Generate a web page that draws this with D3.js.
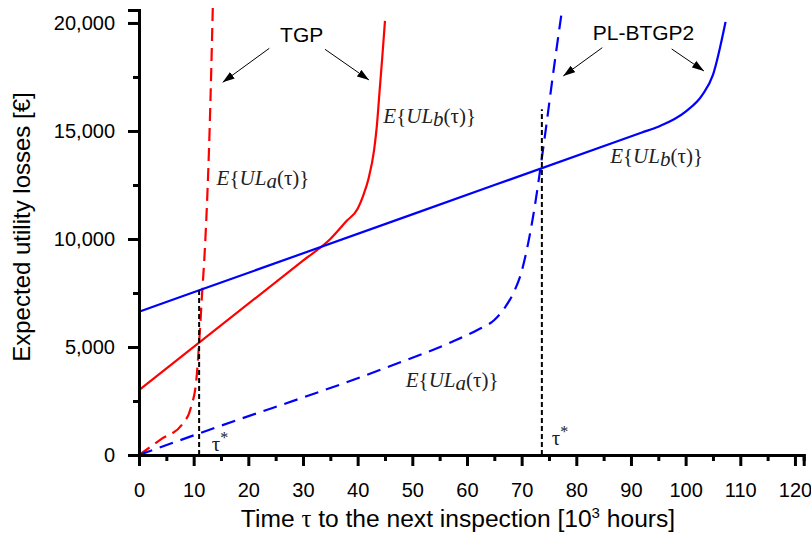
<!DOCTYPE html>
<html>
<head>
<meta charset="utf-8">
<script src="https://cdn.jsdelivr.net/npm/d3@7"></script>
<style>
    html, body { margin: 0; padding: 0; background: #fff; }
    svg { display: block; }
    .tick text { font-family: "Liberation Sans", Arial, sans-serif; font-size: 20px; fill: #000; }
    .math { font-family: "Liberation Serif", "Times New Roman", serif; font-size: 21px; fill: #222; }
    .note { font-family: "Liberation Sans", Arial, sans-serif; font-size: 21px; fill: #000; }
    .title { font-family: "Liberation Sans", Arial, sans-serif; font-size: 24px; fill: #000; }
</style>
</head>
<body>
<div id="chart"></div>
<script>
// ------------------------------------------------------------
// Data (x in 10^3 h, y in EUR)
// ------------------------------------------------------------
var xMajorTicks = [0, 10, 20, 30, 40, 50, 60, 70, 80, 90, 100, 110, 120];
var xMinorTicks = [5, 15, 25, 35, 45, 55, 65, 75, 85, 95, 105, 115];
var yMajorTicks = [0, 5000, 10000, 15000, 20000];
var yMinorTicks = [2500, 7500, 12500, 17500];

// TGP model
var tgpUlaX = [0, 4, 8, 9.5, 10.5, 11.1, 11.5, 12, 12.9, 13.5];
var tgpUlaY = [0, 720, 1450, 2200, 3500, 5600, 7300, 9300, 14900, 20700];
var tgpUlbX = [0, 30, 35, 38, 40, 41, 42, 43, 43.5, 44, 44.5, 45];
var tgpUlbY = [3000, 9000, 10000, 10840, 11400, 12000, 12800, 14100, 15200, 16800, 18400, 20100];

// PL-BTGP2 model
var plUlaX = [0, 11, 46, 58, 62, 65, 67, 68.5, 70, 72, 74, 76, 77.3];
var plUlaY = [0, 1000, 4120, 5320, 5800, 6250, 6850, 7500, 8500, 10900, 14300, 18100, 20450];
var plUlbX = [0, 50, 92, 95, 100, 103, 105, 107.3];
var plUlbY = [6630, 11140, 14930, 15200, 15900, 16650, 17600, 20050];

// optimal inspection times tau* and the height of their markers
var tauStar = [11, 73.7];
var tauStarTop = [7620, 16000];

(function () {
    'use strict';

    var W = 811, H = 545;

    var x = d3.scaleLinear().domain([0, 121.6]).range([139, 803.7]);
    var y = d3.scaleLinear().domain([0, 20600]).range([455, 10]);

    var svg = d3.select('#chart').append('svg')
        .attr('width', W).attr('height', H);

    function zip(xs, ys) {
        return xs.map(function (v, i) { return [v, ys[i]]; });
    }

    var line = d3.line()
        .x(function (d) { return x(d[0]); })
        .y(function (d) { return y(d[1]); })
        .curve(d3.curveMonotoneX);

    // --- curves ---
    var series = [
        { pts: zip(tgpUlaX, tgpUlaY), color: '#ff0000', dash: '13,7' },
        { pts: zip(tgpUlbX, tgpUlbY), color: '#ff0000', dash: null },
        { pts: zip(plUlaX, plUlaY), color: '#0000ff', dash: '14,8' },
        { pts: zip(plUlbX, plUlbY), color: '#0000ff', dash: null }
    ];
    series.forEach(function (s) {
        svg.append('path')
            .attr('d', line(s.pts))
            .attr('fill', 'none')
            .attr('stroke', s.color)
            .attr('stroke-width', 2.2)
            .attr('stroke-dasharray', s.dash);
    });

    // --- tau* markers ---
    tauStar.forEach(function (t, i) {
        svg.append('line')
            .attr('x1', x(t)).attr('x2', x(t))
            .attr('y1', y(0)).attr('y2', y(tauStarTop[i]))
            .attr('stroke', '#000')
            .attr('stroke-width', 2)
            .attr('stroke-dasharray', '5,3');
    });
    var tauLabels = [[13.3, 185], [75.5, 460]];
    tauLabels.forEach(function (p) {
        var t = svg.append('text').attr('class', 'math')
            .attr('x', x(p[0])).attr('y', y(p[1]));
        t.append('tspan').text('τ');
        t.append('tspan').attr('dy', -8).attr('font-size', 16).text('*');
    });

    // --- axes ---
    function styleAxis(g) {
        g.select('.domain').attr('stroke-width', 3).attr('stroke', '#000');
        g.selectAll('.tick line').attr('stroke-width', 3).attr('stroke', '#000');
    }

    svg.append('g').attr('transform', 'translate(0,' + y(0) + ')')
        .call(d3.axisBottom(x).tickValues(xMinorTicks).tickSize(6).tickFormat(''))
        .call(styleAxis);
    svg.append('g').attr('transform', 'translate(0,' + y(0) + ')')
        .call(d3.axisBottom(x).tickValues(xMajorTicks).tickSize(11).tickPadding(17)
            .tickFormat(d3.format('d')))
        .call(styleAxis);

    svg.append('g').attr('transform', 'translate(' + x(0) + ',0)')
        .call(d3.axisLeft(y).tickValues(yMinorTicks).tickSize(6).tickFormat(''))
        .call(styleAxis);
    svg.append('g').attr('transform', 'translate(' + x(0) + ',0)')
        .call(d3.axisLeft(y).tickValues(yMajorTicks).tickSize(11).tickPadding(13)
            .tickFormat(d3.format(',')))
        .call(styleAxis);

    // --- axis titles ---
    var xt = svg.append('text').attr('class', 'title')
        .attr('x', 458).attr('y', 527).attr('text-anchor', 'middle')
        .style('font-size', '24.6px');
    xt.append('tspan').text('Time ');
    xt.append('tspan').attr('font-family', 'Liberation Serif, serif').text('τ');
    xt.append('tspan').text(' to the next inspection [10');
    xt.append('tspan').attr('dy', -9).attr('font-size', 15).text('3');
    xt.append('tspan').attr('dy', 9).text(' hours]');

    svg.append('text').attr('class', 'title')
        .attr('transform', 'translate(30,227) rotate(-90)')
        .attr('text-anchor', 'middle')
        .text('Expected utility losses [€]');

    // --- curve labels E{UL(τ)} ---
    var mathLabels = [
        { x: 14.2, y: 12500, sub: 'a' },
        { x: 44.7, y: 15370, sub: 'b' },
        { x: 86.2, y: 13520, sub: 'b' },
        { x: 48.8, y: 3160, sub: 'a' }
    ];
    mathLabels.forEach(function (m) {
        var t = svg.append('text').attr('class', 'math')
            .attr('x', x(m.x)).attr('y', y(m.y));
        t.append('tspan').attr('font-style', 'italic').text('E');
        t.append('tspan').text('{');
        t.append('tspan').attr('font-style', 'italic').text('UL');
        t.append('tspan').attr('font-style', 'italic').attr('dy', 3).text(m.sub);
        t.append('tspan').attr('dy', -3).text('(τ)}');
    });

    // --- model annotations with arrows ---
    var defs = svg.append('defs');
    defs.append('marker')
        .attr('id', 'head')
        .attr('viewBox', '0 0 12 8')
        .attr('refX', 12).attr('refY', 4)
        .attr('markerWidth', 12).attr('markerHeight', 8)
        .attr('markerUnits', 'userSpaceOnUse')
        .attr('orient', 'auto')
        .append('path').attr('d', 'M0,0 L12,4 L0,8 Z').attr('fill', '#000');

    var notes = [
        { text: 'TGP', x: 29.76, y: 19134,
          arrows: [[23.84, 18827, 15.31, 17253], [34.02, 18782, 42.07, 17361]] },
        { text: 'PL-BTGP2', x: 92.3, y: 19230,
          arrows: [[84.75, 18856, 77.62, 17546], [97.45, 18796, 103.35, 17778]] }
    ];
    notes.forEach(function (n) {
        svg.append('text').attr('class', 'note')
            .attr('x', x(n.x)).attr('y', y(n.y))
            .attr('text-anchor', 'middle')
            .text(n.text);
        n.arrows.forEach(function (a) {
            svg.append('line')
                .attr('x1', x(a[0])).attr('y1', y(a[1]))
                .attr('x2', x(a[2])).attr('y2', y(a[3]))
                .attr('stroke', '#000').attr('stroke-width', 1)
                .attr('marker-end', 'url(#head)');
        });
    });
})();
</script>
</body>
</html>
